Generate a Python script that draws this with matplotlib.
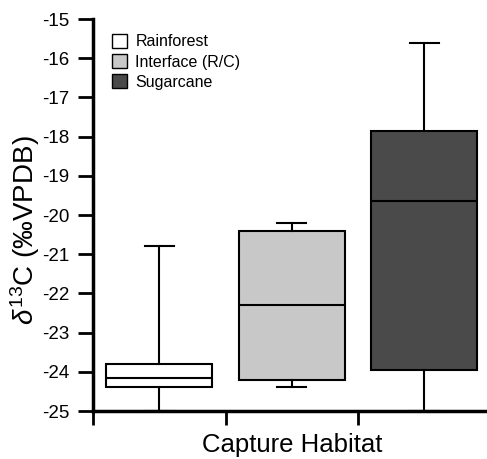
import matplotlib.pyplot as plt
from matplotlib.patches import Patch

plt.rcParams['font.family'] = ['Liberation Sans', 'DejaVu Sans']
plt.rcParams['mathtext.fontset'] = 'custom'
plt.rcParams['mathtext.rm'] = 'Liberation Sans'
plt.rcParams['mathtext.it'] = 'Liberation Sans:italic'

habitats = ['Rainforest', 'Interface (R/C)', 'Sugarcane']
colors = ['white', '#c8c8c8', '#4a4a4a']
whislo = [-25.0, -24.4, -25.0]
q1 = [-24.4, -24.2, -23.95]
med = [-24.15, -22.3, -19.65]
q3 = [-23.8, -20.4, -17.85]
whishi = [-20.8, -20.2, -15.6]

stats = []
for i in range(len(habitats)):
    stats.append(dict(label=habitats[i], whislo=whislo[i], q1=q1[i], med=med[i],
                      q3=q3[i], whishi=whishi[i], fliers=[]))

fig = plt.figure(figsize=(4.87, 4.59), dpi=100)
ax = fig.add_axes([93/487, (459-411)/459, (487-93)/487 + 0.01, (411-19)/459])

bp = ax.bxp(stats, positions=[0.5, 1.5, 2.5], widths=0.8, patch_artist=True,
            showfliers=False, capwidths=0.22,
            boxprops=dict(linewidth=1.5, edgecolor='black'),
            medianprops=dict(color='black', linewidth=1.5),
            whiskerprops=dict(color='black', linewidth=1.5),
            capprops=dict(color='black', linewidth=1.5))
for patch, c in zip(bp['boxes'], colors):
    patch.set_facecolor(c)

ax.set_ylim(-25, -15)
ax.set_xlim(0, 3.01)
ax.set_yticks(range(-25, -14))
ax.set_yticklabels([str(v) for v in range(-25, -14)], fontsize=13.5)
ax.set_xticks([0, 1, 2, 3])
ax.set_xticklabels([])
ax.tick_params(axis='x', direction='out', length=10, width=2)
ax.tick_params(axis='y', direction='out', length=11, width=2, pad=6)

for s in ['top', 'right']:
    ax.spines[s].set_visible(False)
for s in ['left', 'bottom']:
    ax.spines[s].set_linewidth(2.5)

ax.set_xlabel('Capture Habitat', fontsize=18.5, labelpad=2)
ax.set_ylabel(r'$\mathit{\delta}^{13}$C (‰VPDB)', fontsize=20)
ax.yaxis.set_label_coords(-0.128, 0.46)

handles = [Patch(facecolor=c, edgecolor='black', linewidth=1) for c in colors]
ax.legend(handles, habitats, loc='upper left', bbox_to_anchor=(0.02, 0.99),
          frameon=False, fontsize=11.5, handlelength=0.95, handleheight=0.95,
          handletextpad=0.5, labelspacing=0.3, borderaxespad=0.3)

fig.savefig('out.png', dpi=100)
